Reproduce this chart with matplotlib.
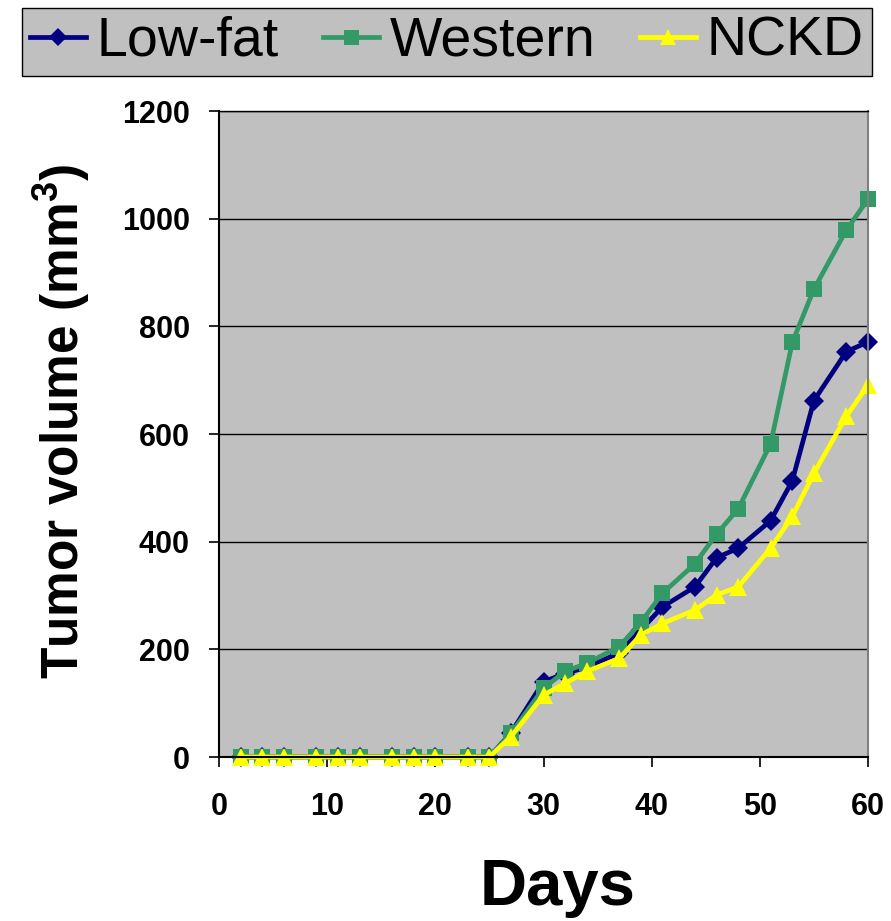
import matplotlib
matplotlib.use("Agg")
import matplotlib.pyplot as plt

plt.rcParams['font.family'] = ['Liberation Sans', 'DejaVu Sans']
plt.rcParams['mathtext.fontset'] = 'custom'
plt.rcParams['mathtext.bf'] = 'Liberation Sans:bold'
plt.rcParams['mathtext.rm'] = 'Liberation Sans:bold'

days = [2, 4, 6, 9, 11, 13, 16, 18, 20, 23, 25, 27, 30, 32, 34, 37, 39, 41, 44, 46, 48, 51, 53, 55, 58, 60]
low_fat = [0, 0, 0, 0, 0, 0, 0, 0, 0, 0, 0, 45, 140, 155, 167, 193, 236, 279, 316, 370, 388, 439, 513, 662, 753, 771]
western = [0, 0, 0, 0, 0, 0, 0, 0, 0, 0, 0, 44, 128, 159, 174, 205, 250, 304, 359, 414, 461, 582, 770, 869, 979, 1036]
nckd = [0, 0, 0, 0, 0, 0, 0, 0, 0, 0, 0, 38, 115, 137, 159, 183, 227, 248, 273, 301, 316, 388, 447, 527, 633, 691]

series = [
    ("Low-fat", low_fat, "#000080", "D", 10),
    ("Western", western, "#339966", "s", 12),
    ("NCKD", nckd, "#FFFF00", "^", 13),
]

fig = plt.figure(figsize=(8.91, 9.21), dpi=100)
ax = fig.add_axes([219 / 891, 1 - 757 / 921, 649 / 891, 646 / 921])
ax.set_facecolor("#C0C0C0")

for label, vals, color, marker, ms in series:
    ax.plot(days, vals, color=color, lw=3.4, marker=marker, markersize=ms,
            markeredgewidth=0, label=label, clip_on=False)

ax.set_xlim(0, 60)
ax.set_ylim(0, 1200)
ax.set_xticks(range(0, 61, 10))
ax.set_yticks(range(0, 1201, 200))
ax.yaxis.grid(True, color="black", lw=1)
ax.set_axisbelow(True)
for side in ("left", "bottom"):
    ax.spines[side].set_color("black")
    ax.spines[side].set_linewidth(1.5)
ax.spines["right"].set_color("#808080")
ax.spines["right"].set_linewidth(1.5)
ax.spines["top"].set_color("black")
ax.spines["top"].set_linewidth(1)

ax.tick_params(axis="both", direction="out", length=7, width=1.2, labelsize=22)
for t in ax.get_xticklabels() + ax.get_yticklabels():
    t.set_fontweight("bold")
ax.tick_params(axis="y", pad=14)
ax.tick_params(axis="x", pad=18)

ax.set_xlabel("Days", fontsize=47, fontweight="bold")
ax.xaxis.set_label_coords(0.521, -0.156)
ax.set_ylabel(r"Tumor volume (mm$^{\mathbf{3}}$)", fontsize=37, fontweight="bold")
ax.yaxis.set_label_coords(-0.196, 0.519)

leg = fig.legend(loc="center", bbox_to_anchor=(447 / 891, 1 - 42 / 921), ncol=3,
                 fontsize=40, frameon=True, fancybox=False, facecolor="#C0C0C0",
                 edgecolor="black", handlelength=1.0, handletextpad=0.2,
                 columnspacing=0.8, borderpad=0.15, borderaxespad=0, markerscale=0.9)
leg.get_frame().set_linewidth(1)
leg.get_frame().set_alpha(1)

fig.savefig("out.png", dpi=100)
